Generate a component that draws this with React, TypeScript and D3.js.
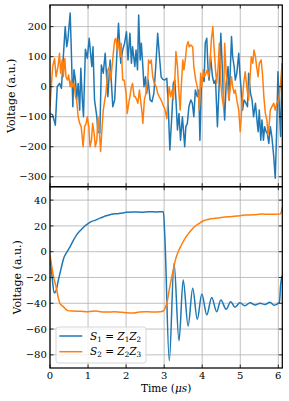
import React, { useEffect, useRef } from 'react'
import * as d3 from 'd3'

// tick values
const xTicks = [0, 1, 2, 3, 4, 5, 6]
const topTicks = [-300, -200, -100, 0, 100, 200]
const bottomTicks = [-80, -60, -40, -20, 0, 20, 40]

// top panel, noisy signals: [time (us), voltage]
const topS1 = [
	[0, -89], [0.07, -94], [0.14, -128], [0.19, 0], [0.25, 11], [0.3, -5], [0.35, 100], [0.4, 200], [0.44, 133], [0.47, 156],
	[0.53, 245], [0.56, 122], [0.6, -67], [0.63, 56], [0.67, 22], [0.7, -44], [0.74, 11], [0.78, -78], [0.81, 61], [0.85, -44],
	[0.88, -100], [0.93, 125], [0.98, 95], [1.03, 161], [1.07, 106], [1.1, 67], [1.13, 133], [1.17, -44], [1.23, -100], [1.26, -150],
	[1.31, -155], [1.35, 72], [1.4, 45], [1.45, 111], [1.52, -33], [1.58, 89], [1.65, -67], [1.7, -44], [1.75, 89], [1.8, 211],
	[1.86, 78], [1.91, 122], [1.96, 145], [2.01, 183], [2.05, 89], [2.1, 178], [2.14, 78], [2.17, 133], [2.23, 67], [2.26, 122],
	[2.3, 56], [2.33, 239], [2.37, 89], [2.4, 145], [2.44, 67], [2.47, 0], [2.51, 33], [2.54, -22], [2.58, 22], [2.63, -44],
	[2.68, -50], [2.73, -22], [2.78, 67], [2.83, 178], [2.87, 111], [2.92, 33], [2.96, 25], [3.01, 22], [3.07, 28], [3.1, -44],
	[3.15, -211], [3.21, -78], [3.24, 11], [3.28, 22], [3.31, -44], [3.35, -144], [3.39, -89], [3.43, -178], [3.48, -100], [3.54, -200],
	[3.57, -133], [3.61, -122], [3.65, -67], [3.7, -44], [3.74, -55], [3.78, -100], [3.82, -11], [3.87, -33], [3.91, -11], [3.94, -178],
	[3.98, 11], [4.01, 33], [4.05, 17], [4.08, 145], [4.12, 161], [4.15, 67], [4.18, 22], [4.22, 100], [4.27, 33], [4.31, 11],
	[4.35, 22], [4.4, -133], [4.44, -11], [4.49, 178], [4.53, 56], [4.56, -44], [4.59, -111], [4.63, 11], [4.68, 67], [4.71, -44],
	[4.77, 167], [4.8, 100], [4.84, 67], [4.87, 22], [4.91, 45], [4.96, 111], [4.99, 45], [5.03, -22], [5.06, -78], [5.1, -44],
	[5.15, -55], [5.19, -67], [5.22, 45], [5.27, -22], [5.31, -44], [5.35, -100], [5.4, -55], [5.43, -100], [5.47, -150], [5.5, -78],
	[5.54, -178], [5.57, -111], [5.61, -178], [5.64, -133], [5.68, -150], [5.71, -155], [5.75, -189], [5.79, -133], [5.83, -166], [5.88, -233],
	[5.92, -305], [5.96, -133], [5.99, 50], [6.03, -78], [6.06, -166], [6.08, -44], [6.11, 78],
]

const topS2 = [
	[0, -67], [0.07, 67], [0.12, 94], [0.16, 33], [0.21, 67], [0.25, 111], [0.28, 45], [0.32, 89], [0.35, 33], [0.39, 94],
	[0.42, 33], [0.46, 22], [0.49, 39], [0.53, 0], [0.56, 22], [0.6, 0], [0.63, 11], [0.67, -33], [0.7, -44], [0.74, -100],
	[0.78, -122], [0.82, -133], [0.87, -200], [0.91, -133], [0.95, -122], [0.98, -100], [1.02, -133], [1.05, -200], [1.09, -178], [1.12, -122],
	[1.16, -155], [1.19, -200], [1.23, -178], [1.26, -100], [1.3, -155], [1.33, -216], [1.37, -133], [1.4, -78], [1.44, -44], [1.47, -22],
	[1.52, 56], [1.56, 67], [1.59, 22], [1.63, 67], [1.66, 106], [1.7, 156], [1.73, 161], [1.77, 122], [1.8, 156], [1.84, 100],
	[1.87, 145], [1.91, 22], [1.95, 22], [2.0, -22], [2.03, -89], [2.07, -55], [2.1, -33], [2.14, 0], [2.17, 11], [2.21, -33],
	[2.24, -33], [2.28, -44], [2.31, -55], [2.35, -11], [2.38, -44], [2.42, -89], [2.44, -122], [2.48, -44], [2.52, -22], [2.57, 22],
	[2.59, 89], [2.63, 78], [2.66, 89], [2.7, 33], [2.74, 11], [2.79, 0], [2.83, -22], [2.87, -33], [2.92, -44], [2.97, -60],
	[3.02, -75], [3.07, -106], [3.1, -44], [3.13, 0], [3.17, -33], [3.21, -11], [3.24, -44], [3.28, 22], [3.31, 117], [3.35, 67],
	[3.38, 0], [3.42, -78], [3.45, 0], [3.49, 89], [3.52, 56], [3.56, 94], [3.59, 133], [3.63, 150], [3.66, 133], [3.7, 139],
	[3.75, 133], [3.78, 67], [3.83, 22], [3.87, 0], [3.91, -44], [3.92, -78], [3.96, 45], [3.99, 0], [4.03, 56], [4.06, 33],
	[4.1, 45], [4.13, 56], [4.17, 33], [4.2, 67], [4.24, 156], [4.28, 200], [4.31, 133], [4.35, 56], [4.38, 11], [4.42, 67],
	[4.45, 145], [4.49, 11], [4.52, -33], [4.56, -67], [4.59, 145], [4.63, 45], [4.66, 11], [4.7, -44], [4.73, -11], [4.77, 33],
	[4.8, 0], [4.84, -22], [4.87, -11], [4.91, -44], [4.96, -78], [5.0, -150], [5.05, -55], [5.09, 11], [5.13, 50], [5.18, -11],
	[5.22, -44], [5.27, 56], [5.29, 100], [5.33, 78], [5.36, 122], [5.4, 100], [5.43, 67], [5.47, 33], [5.5, 78], [5.55, 89],
	[5.59, 33], [5.62, -33], [5.66, -89], [5.7, -111], [5.73, -160], [5.77, -111], [5.79, -78], [5.83, -67], [5.88, -55], [5.92, -78],
	[5.96, -55], [6.01, -44], [6.06, 11], [6.1, 78],
]

// bottom panel, smooth responses
const botS1 = [
	[0, -3], [0.05, -18], [0.11, -32], [0.15, -31], [0.22, -22], [0.3, -12], [0.35, -6], [0.45, 0], [0.53, 4], [0.6, 8],
	[0.7, 13], [0.8, 16.5], [0.9, 19.5], [1.01, 22], [1.1, 23.5], [1.2, 24.5], [1.31, 26], [1.4, 27], [1.5, 28], [1.62, 29],
	[1.75, 29.5], [1.9, 30], [2.0, 30.5], [2.2, 30.8], [2.4, 30.6], [2.6, 31], [2.8, 30.8], [2.98, 31], [3.02, 10], [3.135, -84.5],
	[3.26, -9], [3.39, -69], [3.5, -22], [3.63, -57.6], [3.75, -28.4], [3.87, -52.4], [3.99, -32.8], [4.12, -49], [4.25, -35.6], [4.38, -46.5],
	[4.49, -37.4], [4.63, -44.7], [4.75, -38.8], [4.86, -43], [4.99, -39.6], [5.12, -42], [5.26, -39.6], [5.39, -41.3], [5.52, -40], [5.65, -41],
	[5.78, -39.3], [5.89, -41.5], [6.03, -39], [6.06, -26], [6.11, -18],
]

const botS2 = [
	[0, -3], [0.05, -12], [0.09, -19], [0.14, -25], [0.18, -30], [0.22, -36], [0.26, -40], [0.3, -41.5], [0.35, -42.6], [0.41, -44.5],
	[0.47, -45.7], [0.6, -46], [0.8, -46.2], [1.0, -46.5], [1.2, -46], [1.31, -46.5], [1.5, -46.8], [1.7, -46.6], [1.9, -47], [2.0, -47.3],
	[2.19, -47.5], [2.35, -46.8], [2.5, -46.5], [2.7, -46.8], [2.9, -46.5], [2.98, -46], [3.03, -43.5], [3.07, -40], [3.15, -27], [3.24, -14],
	[3.3, -6], [3.37, 0], [3.45, 5], [3.55, 10.4], [3.65, 14.5], [3.77, 18.6], [3.9, 21.5], [4.03, 24], [4.18, 25.2], [4.34, 25.9],
	[4.5, 26.5], [4.69, 27.1], [4.9, 27.6], [5.12, 28.4], [5.35, 28.6], [5.56, 29.2], [5.8, 29], [6.05, 29.2], [6.08, 31], [6.11, 35],
]

const C1 = '#1f77b4'
const C2 = '#ff7f0e'
const FONT = 'DejaVu Serif'
const fmt = d => (d < 0 ? '\u2212' + Math.abs(d) : '' + d)

const App = () => {
	const ref = useRef(null)

	useEffect(() => {
		const svg = d3.select(ref.current)
		svg.selectAll('*').remove()

		const left = 50, right = 282.3
		const x = d3.scaleLinear().domain([0, 6.105]).range([left, right])

		const panels = [
			{ id: 'top', y0: 5, y1: 186.7, domain: [-333, 272], ticks: topTicks, s1: topS1, s2: topS2, curve: d3.curveLinear, labelX: 14.5, xLabels: false },
			{ id: 'bot', y0: 186.7, y1: 368, domain: [-90.2, 50.4], ticks: bottomTicks, s1: botS1, s2: botS2, curve: d3.curveMonotoneX, labelX: 20.5, xLabels: true },
		]

		panels.forEach(p => {
			const y = d3.scaleLinear().domain(p.domain).range([p.y1, p.y0])
			const g = svg.append('g')

			g.append('clipPath').attr('id', 'clip-' + p.id)
				.append('rect').attr('x', left).attr('y', p.y0).attr('width', right - left).attr('height', p.y1 - p.y0)

			// grid
			g.selectAll('.gx').data(xTicks).enter().append('line')
				.attr('x1', d => x(d)).attr('x2', d => x(d)).attr('y1', p.y0).attr('y2', p.y1)
				.attr('stroke', '#b0b0b0').attr('stroke-width', 0.8)
			g.selectAll('.gy').data(p.ticks).enter().append('line')
				.attr('x1', left).attr('x2', right).attr('y1', d => y(d)).attr('y2', d => y(d))
				.attr('stroke', '#b0b0b0').attr('stroke-width', 0.8)

			// lines
			const line = d3.line().x(d => x(d[0])).y(d => y(d[1])).curve(p.curve)
			const lg = g.append('g').attr('clip-path', 'url(#clip-' + p.id + ')')
			lg.append('path').attr('d', line(p.s1)).attr('fill', 'none').attr('stroke', C1).attr('stroke-width', 1.5).attr('stroke-linejoin', 'round')
			lg.append('path').attr('d', line(p.s2)).attr('fill', 'none').attr('stroke', C2).attr('stroke-width', 1.5).attr('stroke-linejoin', 'round')

			// inward ticks on all sides
			const tl = 3.5
			xTicks.forEach(d => {
				g.append('line').attr('x1', x(d)).attr('x2', x(d)).attr('y1', p.y1).attr('y2', p.y1 - tl).attr('stroke', '#000').attr('stroke-width', 0.8)
				g.append('line').attr('x1', x(d)).attr('x2', x(d)).attr('y1', p.y0).attr('y2', p.y0 + tl).attr('stroke', '#000').attr('stroke-width', 0.8)
			})
			p.ticks.forEach(d => {
				g.append('line').attr('x1', left).attr('x2', left + tl).attr('y1', y(d)).attr('y2', y(d)).attr('stroke', '#000').attr('stroke-width', 0.8)
				g.append('line').attr('x1', right).attr('x2', right - tl).attr('y1', y(d)).attr('y2', y(d)).attr('stroke', '#000').attr('stroke-width', 0.8)
			})

			// frame
			g.append('rect').attr('x', left).attr('y', p.y0).attr('width', right - left).attr('height', p.y1 - p.y0)
				.attr('fill', 'none').attr('stroke', '#000').attr('stroke-width', 1.25)

			// y tick labels
			g.selectAll('.yl').data(p.ticks).enter().append('text')
				.attr('x', 46.8).attr('y', d => y(d) + 3.6)
				.attr('text-anchor', 'end').attr('font-family', FONT).attr('font-size', 10)
				.text(fmt)

			// y label
			const cy = (p.y0 + p.y1) / 2
			g.append('text')
				.attr('transform', 'translate(' + p.labelX + ',' + cy + ') rotate(-90)')
				.attr('text-anchor', 'middle').attr('font-family', FONT).attr('font-size', 11)
				.text('Voltage (a.u.)')

			if (p.xLabels) {
				g.selectAll('.xl').data(xTicks).enter().append('text')
					.attr('x', d => x(d)).attr('y', p.y1 + 10.5)
					.attr('text-anchor', 'middle').attr('font-family', FONT).attr('font-size', 10)
					.text(fmt)
				const t = g.append('text')
					.attr('x', (left + right) / 2).attr('y', 392)
					.attr('text-anchor', 'middle').attr('font-family', FONT).attr('font-size', 10.5)
				t.append('tspan').text('Time (')
				t.append('tspan').attr('font-style', 'italic').text('\u03bcs')
				t.append('tspan').text(')')
			}
		})

		// legend
		const leg = svg.append('g')
		leg.append('rect').attr('x', 56).attr('y', 327).attr('width', 90).attr('height', 36).attr('rx', 2.5)
			.attr('fill', 'white').attr('fill-opacity', 0.8).attr('stroke', '#cccccc').attr('stroke-width', 0.8)
		const entries = [
			{ c: C1, s: ['S', '1', 'Z', '1', 'Z', '2'], y: 336 },
			{ c: C2, s: ['S', '2', 'Z', '2', 'Z', '3'], y: 351.7 },
		]
		entries.forEach(e => {
			leg.append('line').attr('x1', 59.3).attr('x2', 82.3).attr('y1', e.y).attr('y2', e.y).attr('stroke', e.c).attr('stroke-width', 1.5)
			const t = leg.append('text').attr('x', 90).attr('y', e.y + 3.7).attr('font-family', FONT).attr('font-size', 10.5)
			t.append('tspan').attr('font-style', 'italic').text(e.s[0])
			t.append('tspan').attr('font-size', 7.3).attr('dy', 2).text(e.s[1])
			t.append('tspan').attr('dy', -2).text(' = ')
			t.append('tspan').attr('font-style', 'italic').text(e.s[2])
			t.append('tspan').attr('font-size', 7.3).attr('dy', 2).text(e.s[3])
			t.append('tspan').attr('font-style', 'italic').attr('dy', -2).text(e.s[4])
			t.append('tspan').attr('font-size', 7.3).attr('dy', 2).text(e.s[5])
		})
	}, [])

	return (
		<svg
			ref={ref}
			width={289}
			height={401}
			style={{ position: 'absolute', left: 0, top: 0, background: 'white' }}
		></svg>
	)
}

export default App
